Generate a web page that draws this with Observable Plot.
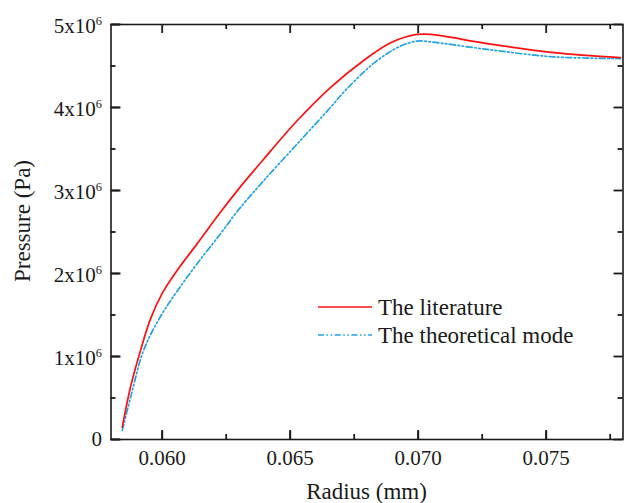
<!DOCTYPE html>
<html>
<head>
<meta charset="utf-8">
<script src="https://cdn.jsdelivr.net/npm/d3@7"></script>
<script src="https://cdn.jsdelivr.net/npm/@observablehq/plot@0.6"></script>
<style>
  html, body { margin: 0; padding: 0; background: #fff; }
  #chart { width: 627px; height: 503px; }
</style>
</head>
<body>
<div id="chart"></div>
<script>
// Series: "The literature" (red, solid)
const radiusLit   = [0.05844, 0.05876, 0.05915, 0.05954, 0.0600, 0.06059, 0.06137, 0.06228, 0.06299, 0.06397, 0.06527, 0.06657, 0.06788, 0.06892, 0.0695, 0.06996, 0.0705, 0.0727, 0.0753, 0.0779];
const pressureLit = [0.15e6, 0.63e6, 1.07e6, 1.45e6, 1.76e6, 2.04e6, 2.36e6, 2.74e6, 3.02e6, 3.38e6, 3.84e6, 4.24e6, 4.57e6, 4.78e6, 4.85e6, 4.88e6, 4.88e6, 4.77e6, 4.66e6, 4.60e6];
// Series: "The theoretical mode" (blue, dash-dot-dot)
const radiusTheo   = [0.05844, 0.0588, 0.05928, 0.05993, 0.06059, 0.06137, 0.06228, 0.06299, 0.06397, 0.06527, 0.06657, 0.06723, 0.06833, 0.06931, 0.06996, 0.0705, 0.0727, 0.0753, 0.0779];
const pressureTheo = [0.11e6, 0.55e6, 1.08e6, 1.48e6, 1.79e6, 2.12e6, 2.48e6, 2.77e6, 3.12e6, 3.56e6, 4.00e6, 4.23e6, 4.55e6, 4.74e6, 4.80e6, 4.79e6, 4.70e6, 4.61e6, 4.59e6];

const seriesNames = ["The literature", "The theoretical mode"];

// Ticks
const xTicks = [0.060, 0.065, 0.070, 0.075];
const xTickLabels = ["0.060", "0.065", "0.070", "0.075"];
const xMinorTicks = [0.0625, 0.0675, 0.0725, 0.0775];
const yTicks = [0, 1e6, 2e6, 3e6, 4e6, 5e6];
const yTickBase = ["0", "1x10", "2x10", "3x10", "4x10", "5x10"];
const yTickExp  = ["", "6", "6", "6", "6", "6"];
const yMinorTicks = [0.5e6, 1.5e6, 2.5e6, 3.5e6, 4.5e6];
const xLabel = "Radius (mm)";
const yLabel = "Pressure (Pa)";

const RED = "#ff1010";
const BLUE = "#1fa2e6";
const DASH = "6,2.5,1.6,2.5,1.6,2.5";
const INK = "#1a1a1a";
const FONT = "Liberation Serif";

const W = 627, H = 503, ML = 110.5, MR = 4.5, MT = 24, MB = 64;
const innerW = W - ML - MR, innerH = H - MT - MB;
const MAJOR = 9, MINOR = 5;

const lit = radiusLit.map((r, i) => ({r, p: pressureLit[i]}));
const theo = radiusTheo.map((r, i) => ({r, p: pressureTheo[i]}));

const blank = () => "";
const tk = {stroke: INK, strokeWidth: 1.8, tickFormat: blank, label: null};

const plot = Plot.plot({
  width: W,
  height: H,
  marginLeft: ML,
  marginRight: MR,
  marginTop: MT,
  marginBottom: MB,
  style: {fontFamily: FONT, fontSize: "21px", color: INK, background: "#fff", overflow: "visible"},
  x: {domain: [0.058, 0.078]},
  y: {domain: [0, 5e6]},
  marks: [
    Plot.line(theo, {x: "r", y: "p", stroke: BLUE, strokeWidth: 1.7, strokeDasharray: DASH, curve: "catmull-rom"}),
    Plot.line(lit, {x: "r", y: "p", stroke: RED, strokeWidth: 1.7, curve: "catmull-rom"}),
    Plot.axisX(xTicks, {anchor: "bottom", tickSize: 0, tickPadding: 11, tickFormat: d => xTickLabels[xTicks.indexOf(d)], label: null}),
    Plot.axisY(yTicks, {anchor: "left", tickSize: 0, tickPadding: 9, tickFormat: d => {
      const i = yTicks.indexOf(d);
      return yTickExp[i] ? yTickBase[i] + "^" + yTickExp[i] : yTickBase[i];
    }, label: null}),
    Plot.frame({stroke: INK, strokeWidth: 1.6}),
    // inward ticks, drawn last
    Plot.ruleX(xTicks, {x: d => d, insetTop: innerH - MAJOR, stroke: INK, strokeWidth: 1.8}),
    Plot.ruleX(xMinorTicks, {x: d => d, insetTop: innerH - MINOR, stroke: INK, strokeWidth: 1.8}),
    Plot.ruleX(xTicks, {x: d => d, insetBottom: innerH - MAJOR, stroke: INK, strokeWidth: 1.8}),
    Plot.ruleX(xMinorTicks, {x: d => d, insetBottom: innerH - MINOR, stroke: INK, strokeWidth: 1.8}),
    Plot.ruleY(yTicks, {y: d => d, insetRight: innerW - MAJOR, stroke: INK, strokeWidth: 1.8}),
    Plot.ruleY(yMinorTicks, {y: d => d, insetRight: innerW - MINOR, stroke: INK, strokeWidth: 1.8}),
    Plot.ruleY(yTicks, {y: d => d, insetLeft: innerW - MAJOR, stroke: INK, strokeWidth: 1.8}),
    Plot.ruleY(yMinorTicks, {y: d => d, insetLeft: innerW - MINOR, stroke: INK, strokeWidth: 1.8}),
    Plot.axisX(xTicks, {anchor: "top", tickSize: MAJOR, dy: innerH, ...tk}),
    Plot.axisY(yTicks, {anchor: "right", tickSize: MAJOR, dx: -innerW, ...tk})
  ]
});

document.getElementById("chart").appendChild(plot);

const svg = d3.select(plot);

// superscripts on y tick labels
svg.selectAll('g[aria-label="y-axis tick label"] text').each(function() {
  const t = this.textContent;
  if (!t.includes("^")) return;
  const [base, exp] = t.split("^");
  const el = d3.select(this);
  el.text(null);
  el.append("tspan").attr("dy", "2").text(base);
  el.append("tspan").attr("dy", "-8").attr("font-size", "12.5").text(exp);
});

// axis titles
svg.append("text")
  .attr("x", ML + innerW / 2).attr("y", 499)
  .attr("text-anchor", "middle")
  .attr("font-size", 23)
  .attr("fill", INK)
  .text(xLabel);

svg.append("text")
  .attr("transform", "translate(30,221) rotate(-90)")
  .attr("text-anchor", "middle")
  .attr("font-size", 23)
  .attr("fill", INK)
  .text(yLabel);

// legend
const legend = svg.append("g");
const legendStyles = [
  {stroke: RED, dash: null},
  {stroke: BLUE, dash: DASH}
];
seriesNames.forEach((name, i) => {
  const y = 307 + i * 28;
  legend.append("line")
    .attr("x1", 318).attr("x2", 372).attr("y1", y).attr("y2", y)
    .attr("stroke", legendStyles[i].stroke).attr("stroke-width", 1.7)
    .attr("stroke-dasharray", legendStyles[i].dash);
  legend.append("text")
    .attr("x", 378).attr("y", y + 8)
    .attr("text-anchor", "start")
    .attr("font-size", 23)
    .attr("fill", INK)
    .text(name);
});
</script>
</body>
</html>
